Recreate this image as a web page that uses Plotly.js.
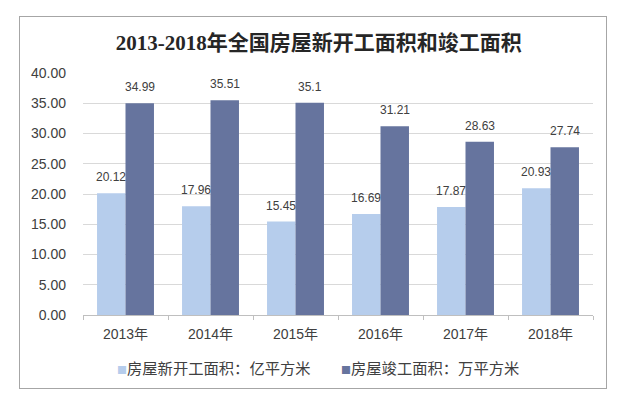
<!DOCTYPE html>
<html>
<head>
<meta charset="utf-8">
<script src="https://cdn.plot.ly/plotly-3.0.1.min.js"></script>
<style>
  html, body { margin: 0; padding: 0; background: #fff; }
  #frame { position: absolute; left: 19px; top: 16px; width: 586px; height: 371px; border: 1px solid #a6a6a6; }
</style>
</head>
<body>
<div id="frame"></div>
<script>
const years = ['2013年', '2014年', '2015年', '2016年', '2017年', '2018年'];
const newStart = [20.12, 17.96, 15.45, 16.69, 17.87, 20.93];
const newStartText = ['20.12', '17.96', '15.45', '16.69', '17.87', '20.93'];
const completed = [34.99, 35.51, 35.10, 31.21, 28.63, 27.74];
const completedText = ['34.99', '35.51', '35.1', '31.21', '28.63', '27.74'];
const seriesNames = ['房屋新开工面积：亿平方米', '房屋竣工面积：万平方米'];
const seriesColors = ['#b6cdec', '#66749e'];
const yTicks = [0, 5, 10, 15, 20, 25, 30, 35, 40];
const yTickText = ['0.00', '5.00', '10.00', '15.00', '20.00', '25.00', '30.00', '35.00', '40.00'];

const baseFont = 'Liberation Sans, Arial, Noto Sans CJK SC, sans-serif';

const W = 586, H = 371, ML = 63, MR = 13, MT = 56, MB = 73;
const plotW = W - ML - MR;
const bargap = 0.33;
const barPx = plotW / years.length * (1 - bargap) / 2;

const traces = [
  { type: 'bar', name: seriesNames[0], x: years, y: newStart, marker: { color: seriesColors[0] }, hoverinfo: 'none' },
  { type: 'bar', name: seriesNames[1], x: years, y: completed, marker: { color: seriesColors[1] }, hoverinfo: 'none' }
];

const annotations = [];
const addLabels = (vals, texts, shift) => {
  vals.forEach((v, i) => annotations.push({
    x: years[i], y: v, xref: 'x', yref: 'y', text: texts[i], showarrow: false,
    xanchor: 'center', yanchor: 'bottom', xshift: shift, yshift: 7,
    font: { family: baseFont, size: 12, color: '#404040' }
  }));
};
addLabels(newStart, newStartText, -barPx / 2);
addLabels(completed, completedText, barPx / 2);

// legend entries
const legendX = [0.062, 0.502];
seriesNames.forEach((n, i) => annotations.push({
  xref: 'paper', yref: 'paper', x: legendX[i], y: -0.215, xanchor: 'left', yanchor: 'middle',
  showarrow: false,
  text: '<span style="color:' + seriesColors[i] + ';font-size:10px">■</span>' + n,
  font: { family: 'Noto Sans CJK SC, sans-serif', size: 15.3, color: '#404040' }
}));

const layout = {
  width: W, height: H,
  margin: { l: ML, r: MR, t: MT, b: MB },
  paper_bgcolor: '#ffffff', plot_bgcolor: '#ffffff',
  font: { family: baseFont, color: '#404040' },
  title: {
    text: '<b>2013-2018年全国房屋新开工面积和竣工面积</b>',
    font: { family: 'Liberation Serif, Noto Sans CJK SC, serif', size: 21, color: '#262626' },
    x: 0.51, xref: 'container', xanchor: 'center',
    y: 0.93, yref: 'container', yanchor: 'middle'
  },
  barmode: 'group', bargap: bargap, bargroupgap: 0,
  xaxis: {
    type: 'category', showgrid: false, showline: true, linecolor: '#bfbfbf', linewidth: 1,
    ticks: 'outside', tickson: 'boundaries', ticklen: 4, tickcolor: '#bfbfbf',
    tickfont: { family: baseFont, size: 14, color: '#404040' }, ticklabelstandoff: 6
  },
  yaxis: {
    range: [0, 40], tickvals: yTicks, ticktext: yTickText,
    showgrid: true, gridcolor: '#d9d9d9', gridwidth: 1, zeroline: false, showline: false,
    tickfont: { family: baseFont, size: 14, color: '#404040' }, ticklabelstandoff: 16
  },
  showlegend: false,
  annotations: annotations
};

Plotly.newPlot('frame', traces, layout, { displayModeBar: false, staticPlot: true });
</script>
</body>
</html>
